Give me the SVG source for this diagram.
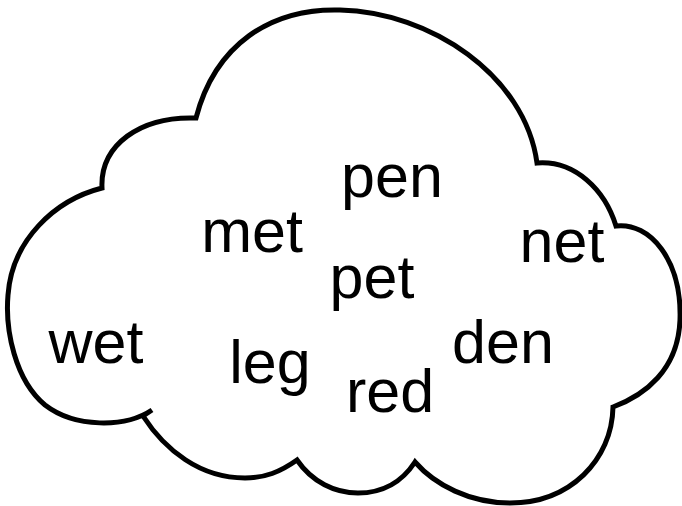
<svg xmlns="http://www.w3.org/2000/svg" width="682" height="506" viewBox="0 0 682 506">
<style>
.cloud{fill:#fff;stroke:#000;stroke-width:5;stroke-linejoin:miter;stroke-miterlimit:3}
.w{font-family:"Liberation Sans",Arial,Helvetica,sans-serif;font-size:61px;fill:#000;text-anchor:middle}
</style>
<rect width="682" height="506" fill="#fff"/>
<g id="cloud">
<path class="cloud" d="M196,118 C215,45 270,8 340,10 C430,12 525,75 537,163 C575,160 605,190 616,226 C650,222 682,260 680,320 C678,370 645,395 613,407 C612,460 570,503 510,503 C470,503 435,485 415,462 C400,485 380,493 358,493 C335,493 312,482 297,460 C280,472 265,478 245,478 C200,478 165,450 143,416 L152,410 C125,428 75,428 45,405 C15,380 5,330 8,295 C12,240 55,200 102,188 C100,145 140,116 196,118 Z"/>
</g>
<g id="words">
<text id="pen" class="w" x="392" y="197">pen</text>
<text id="met" class="w" x="252" y="252">met</text>
<text id="pet" class="w" x="372" y="298">pet</text>
<text id="net" class="w" x="562" y="262">net</text>
<text id="den" class="w" x="503" y="363">den</text>
<text id="wet" class="w" x="96" y="363">wet</text>
<text id="leg" class="w" x="270" y="383">leg</text>
<text id="red" class="w" x="390" y="412">red</text>
</g>
</svg>
